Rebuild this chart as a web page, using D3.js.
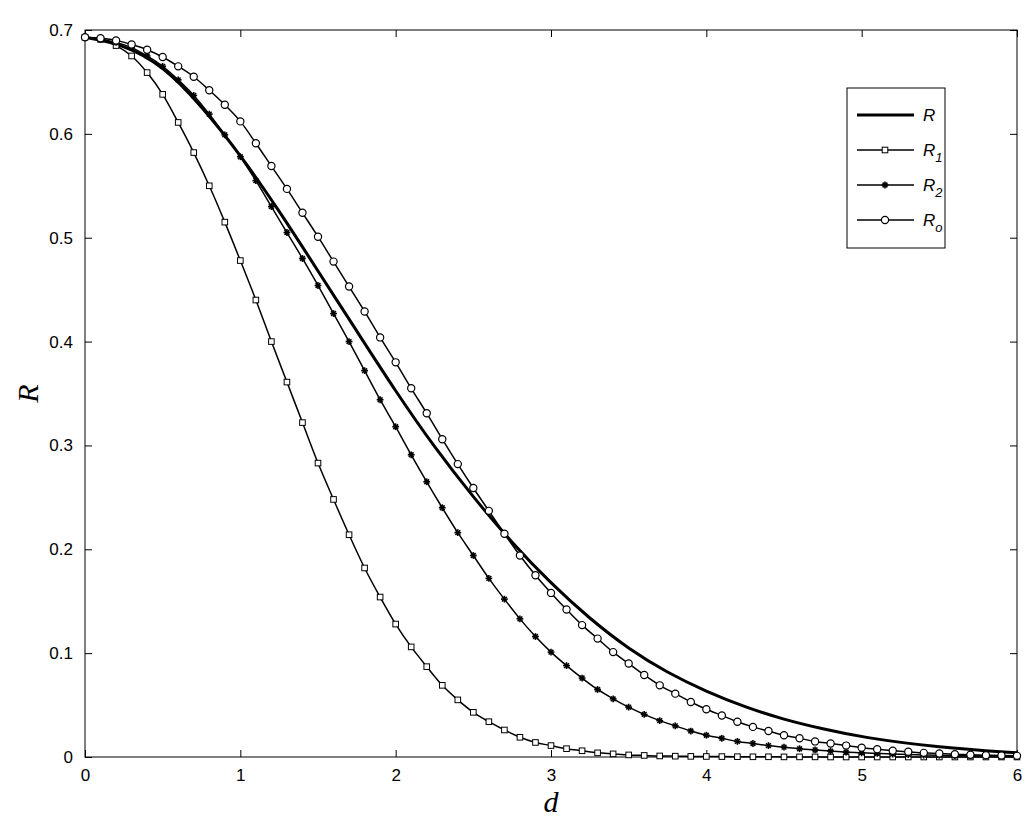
<!DOCTYPE html>
<html><head><meta charset="utf-8">
<script src="https://cdn.jsdelivr.net/npm/d3@7"></script>
<style>body{margin:0;background:#fff}</style></head>
<body><svg id="c" width="1033" height="827"></svg>
<script>
const dStep = d3.range(0, 61).map(i => +(i * 0.1).toFixed(1));
const R1 = [0.693,0.691,0.685,0.675,0.659,0.638,0.611,0.582,0.550,0.515,0.478,0.440,0.400,0.361,0.322,0.283,0.248,0.214,0.182,0.154,0.128,0.106,0.087,0.069,0.055,0.043,0.034,0.026,0.019,0.014,0.011,0.008,0.006,0.004,0.003,0.002,0.0015,0.001,0.0008,0.0006,0.0005,0.0004,0.0003,0.0002,0.0002,0.0001,0.0001,0.0001,0,0,0,0,0,0,0,0,0,0,0,0,0];
const R2 = [0.693,0.691,0.688,0.683,0.675,0.665,0.652,0.637,0.619,0.599,0.578,0.555,0.530,0.505,0.480,0.454,0.427,0.400,0.372,0.344,0.318,0.291,0.265,0.240,0.216,0.194,0.172,0.152,0.133,0.116,0.101,0.088,0.076,0.065,0.056,0.048,0.041,0.035,0.030,0.025,0.021,0.018,0.015,0.013,0.011,0.0095,0.008,0.0068,0.0057,0.0047,0.004,0.0034,0.0028,0.0023,0.0019,0.0016,0.0013,0.0011,0.0009,0.0007,0.0005];
const Ro = [0.693,0.692,0.690,0.686,0.681,0.674,0.665,0.655,0.642,0.628,0.612,0.591,0.569,0.547,0.524,0.501,0.477,0.453,0.429,0.404,0.380,0.355,0.331,0.306,0.282,0.259,0.237,0.215,0.194,0.175,0.158,0.142,0.127,0.114,0.101,0.090,0.079,0.069,0.061,0.053,0.046,0.040,0.034,0.029,0.025,0.021,0.018,0.015,0.013,0.011,0.009,0.0075,0.006,0.005,0.004,0.0033,0.0027,0.0022,0.0018,0.0014,0.0011];
const dR = [0,0.25,0.5,0.75,1,1.25,1.5,1.75,2,2.25,2.5,2.75,3,3.25,3.5,3.75,4,4.25,4.5,4.75,5,5.5,6];
const RR = [0.693,0.686,0.666,0.627,0.580,0.526,0.468,0.410,0.352,0.298,0.250,0.206,0.167,0.133,0.104,0.081,0.063,0.048,0.036,0.027,0.019,0.009,0.004];
const xTicks = [0,1,2,3,4,5,6];
const yTicks = [0,0.1,0.2,0.3,0.4,0.5,0.6,0.7];
const legendLabels = [["R",""],["R","1"],["R","2"],["R","o"]];

const svg = d3.select("#c");
const L=85,Rt=1017,T=30,B=757;
const x = d3.scaleLinear().domain([0,6]).range([L,Rt]);
const y = d3.scaleLinear().domain([0,0.7]).range([B,T]);
const font = "Helvetica, Arial, 'Liberation Sans', sans-serif";

svg.append("rect").attr("x",L).attr("y",T).attr("width",Rt-L).attr("height",B-T).attr("fill","none").attr("stroke","#000").attr("stroke-width",1);
const styleAx = (g)=>{g.select(".domain").remove(); g.selectAll("text").attr("font-family",font).attr("font-size",17).attr("fill","#000"); g.selectAll("line").attr("stroke","#000");};
svg.append("g").attr("transform",`translate(0,${B})`).call(d3.axisBottom(x).tickValues(xTicks).tickSizeInner(-7).tickSizeOuter(0).tickPadding(12).tickFormat(d3.format("d"))).call(styleAx);
svg.append("g").attr("transform",`translate(0,${T})`).call(d3.axisTop(x).tickValues(xTicks).tickSizeInner(-7).tickSizeOuter(0).tickFormat("")).call(styleAx);
svg.append("g").attr("transform",`translate(${L},0)`).call(d3.axisLeft(y).tickValues(yTicks).tickSizeInner(-7).tickSizeOuter(0).tickPadding(12).tickFormat(d=>d===0?"0":d3.format(".1f")(d))).call(styleAx);
svg.append("g").attr("transform",`translate(${Rt},0)`).call(d3.axisRight(y).tickValues(yTicks).tickSizeInner(-7).tickSizeOuter(0).tickFormat("")).call(styleAx);

svg.append("text").attr("x",(L+Rt)/2).attr("y",812).attr("text-anchor","middle").attr("font-family","'Liberation Serif','Times New Roman',serif").attr("font-style","italic").attr("font-size",30).text("d");
svg.append("text").attr("transform",`translate(38,${(T+B)/2}) rotate(-90)`).attr("text-anchor","middle").attr("font-family","'Liberation Serif','Times New Roman',serif").attr("font-style","italic").attr("font-size",30).text("R");

const line = d3.line().x(d=>x(d[0])).y(d=>y(d[1])).curve(d3.curveBasis);
const lineM = d3.line().x(d=>x(d[0])).y(d=>y(d[1])).curve(d3.curveMonotoneX);
const g = svg.append("g");
function drawMarker(sel, type, cx, cy){
  if(type==="sq") sel.append("rect").attr("x",cx-2.8).attr("y",cy-2.8).attr("width",5.6).attr("height",5.6).attr("fill","#fff").attr("stroke","#000").attr("stroke-width",1);
  else if(type==="ci") sel.append("circle").attr("cx",cx).attr("cy",cy).attr("r",3.6).attr("fill","#fff").attr("stroke","#000").attr("stroke-width",1.2);
  else if(type==="st"){ const s=3.4; [[-s,0,s,0],[0,-s,0,s],[-s*0.7,-s*0.7,s*0.7,s*0.7],[-s*0.7,s*0.7,s*0.7,-s*0.7]].forEach(l=>sel.append("line").attr("x1",cx+l[0]).attr("y1",cy+l[1]).attr("x2",cx+l[2]).attr("y2",cy+l[3]).attr("stroke","#000").attr("stroke-width",1.6)); }
}
const series=[[R1,"sq"],[R2,"st"],[Ro,"ci"]];
series.forEach(([vals,m])=>{
  const pts=dStep.map((d,i)=>[d,vals[i]]);
  g.append("path").attr("d",lineM(pts)).attr("fill","none").attr("stroke","#000").attr("stroke-width",1.5);
});
g.append("path").attr("d",line(dR.map((d,i)=>[d,RR[i]]))).attr("fill","none").attr("stroke","#000").attr("stroke-width",3);
series.forEach(([vals,m])=>{
  const mg=g.append("g");
  dStep.forEach((d,i)=>drawMarker(mg,m,x(d),y(vals[i])));
});

const lg=svg.append("g");
lg.append("rect").attr("x",847).attr("y",88).attr("width",98).attr("height",160).attr("fill","#fff").attr("stroke","#000");
const mk=[null,"sq","st","ci"];
legendLabels.forEach((lab,i)=>{
  const cy=115+i*35;
  lg.append("line").attr("x1",857).attr("x2",914).attr("y1",cy).attr("y2",cy).attr("stroke","#000").attr("stroke-width",i===0?3:1.5);
  if(mk[i]) drawMarker(lg,mk[i],885,cy);
  const t=lg.append("text").attr("x",923).attr("y",cy+6).attr("font-family",font).attr("font-style","italic").attr("font-size",17).text(lab[0]);
  if(lab[1]) t.append("tspan").attr("dy",6).attr("font-size",13).text(lab[1]);
});
</script></body></html>
